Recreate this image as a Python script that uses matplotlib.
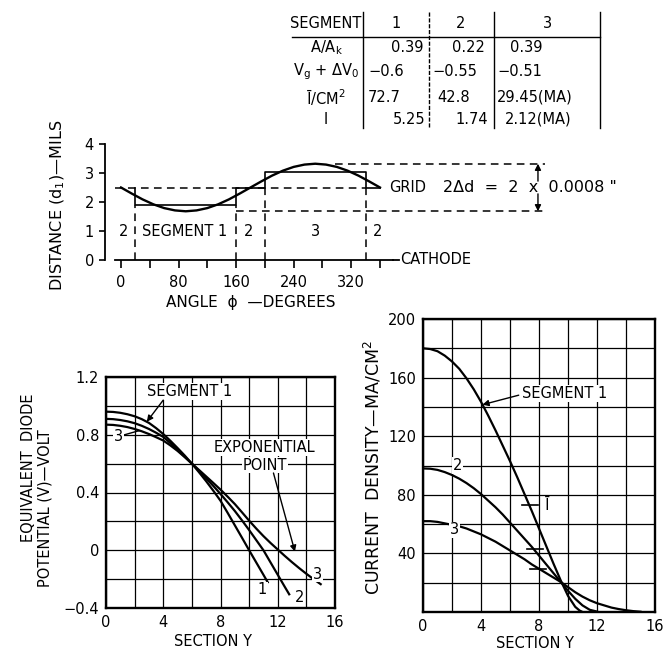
import matplotlib
matplotlib.use('Agg')
import matplotlib.pyplot as plt
from matplotlib.lines import Line2D
import numpy as np

plt.rcParams['font.family'] = ['DejaVu Sans']
plt.rcParams['mathtext.default'] = 'regular'
plt.rcParams['font.size'] = 10.5

# ---------------- data: table ----------------
table_row_labels = ['SEGMENT', 'A/A$_k$', 'V$_g$ + ΔV$_0$', 'Ī/CM$^2$', 'I']
table_segments = ['1', '2', '3']
table_area_ratio = ['0.39', '0.22', '0.39']
table_vg_dv0 = ['−0.6', '−0.55', '−0.51']
table_mean_density = ['72.7', '42.8', '29.45(MA)']
table_current = ['5.25', '1.74', '2.12(MA)']

# ---------------- data: grid distance vs angle ----------------
phi_deg = [0, 15, 30, 45, 60, 75, 90, 105, 120, 135, 150, 165, 180,
           195, 210, 225, 240, 255, 270, 285, 300, 315, 330, 345, 360]
grid_dist = [2.50, 2.29, 2.09, 1.92, 1.79, 1.71, 1.68, 1.71, 1.79, 1.92, 2.09, 2.29, 2.50,
             2.71, 2.91, 3.08, 3.21, 3.29, 3.32, 3.29, 3.21, 3.08, 2.91, 2.71, 2.50]
seg_edges = [20, 160, 200, 340]
seg_edge_top = [1.9, 1.9, 2.5, 2.5]
seg_mean_phi = [20, 20, 160, 160, 200, 200, 340, 340, 360]
seg_mean_d = [2.5, 1.9, 1.9, 2.5, 2.5, 3.05, 3.05, 2.5, 2.5]
seg_label_phi = [3, 89, 178, 270, 357]
seg_label_txt = ['2', 'SEGMENT 1', '2', '3', '2']
d_nominal, d_high, d_low = 2.5, 3.32, 1.68

# ---------------- data: equivalent diode potential ----------------
y_pot1 = [0, 0.5, 1, 1.5, 2, 2.5, 3, 3.5, 4, 4.5, 5, 5.5, 6, 6.5, 7, 7.5, 8, 8.5, 9, 9.5, 10, 10.5, 11, 11.3]
v_pot1 = [0.960, 0.958, 0.952, 0.942, 0.928, 0.908, 0.882, 0.846, 0.805, 0.758, 0.708, 0.656, 0.600,
          0.540, 0.478, 0.412, 0.343, 0.259, 0.173, 0.087, 0.000, -0.085, -0.170, -0.222]
y_pot2 = [0, 0.5, 1, 1.5, 2, 2.5, 3, 3.5, 4, 4.5, 5, 5.5, 6, 6.5, 7, 7.5, 8, 8.5, 9, 9.5, 10, 10.5,
          11, 11.5, 12, 12.5, 12.8]
v_pot2 = [0.910, 0.908, 0.902, 0.893, 0.880, 0.862, 0.840, 0.814, 0.785, 0.742, 0.696, 0.648, 0.600,
          0.550, 0.498, 0.445, 0.390, 0.332, 0.272, 0.207, 0.140, 0.070, 0.000, -0.085, -0.170,
          -0.255, -0.305]
y_pot3 = [0, 0.5, 1, 1.5, 2, 2.5, 3, 3.5, 4, 4.5, 5, 5.5, 6, 6.5, 7, 7.5, 8, 8.5, 9, 9.5, 10, 10.5,
          11, 11.5, 12, 12.5, 13, 13.5, 14, 14.5, 15]
v_pot3 = [0.870, 0.868, 0.862, 0.853, 0.840, 0.824, 0.805, 0.783, 0.760, 0.726, 0.688, 0.645, 0.600,
          0.556, 0.511, 0.466, 0.420, 0.371, 0.320, 0.263, 0.205, 0.150, 0.098, 0.050, 0.005,
          -0.040, -0.083, -0.124, -0.163, -0.200, -0.235]

# ---------------- data: current density ----------------
y_cd1 = [0, 0.5, 1, 1.5, 2, 2.5, 3, 3.5, 4, 4.5, 5, 5.5, 6, 6.5, 7, 7.5, 8, 8.5, 9, 9.5, 10, 10.5, 10.8, 11]
j_cd1 = [180, 179.5, 178, 175, 171, 166, 159.5, 152, 143.5, 134, 124, 113.5, 103, 92, 80.5, 69, 57,
         45, 33, 21.5, 11, 3.5, 1, 0]
y_cd2 = [0, 0.5, 1, 1.5, 2, 2.5, 3, 3.5, 4, 4.5, 5, 5.5, 6, 6.5, 7, 7.5, 8, 8.5, 9, 9.5, 10, 10.5,
         11, 11.5, 12]
j_cd2 = [98, 97.8, 97, 95.5, 93.5, 91, 88, 84.5, 80.5, 76, 71.5, 66.5, 61, 55.5, 50, 44.5, 38.5,
         32.5, 26.5, 20.5, 14.5, 9, 4.5, 1.5, 0.3]
y_cd3 = [0, 0.5, 1, 1.5, 2, 2.5, 3, 3.5, 4, 4.5, 5, 5.5, 6, 6.5, 7, 7.5, 8, 8.5, 9, 9.5, 10, 10.5,
         11, 11.5, 12, 12.5, 13, 13.5, 14, 14.5, 15]
j_cd3 = [62, 62, 61.5, 60.5, 59.5, 58.5, 57, 55, 53, 50.5, 48, 45, 42, 39, 36, 32.5, 29.5, 26.5,
         23.5, 20.5, 17, 13.5, 10.5, 8, 6, 4.5, 3, 2, 1.2, 0.6, 0.2]
mean_density = [72.7, 42.8, 29.45]
mean_density_span = [(6.8, 7.9), (7.2, 8.3), (7.4, 8.5)]

# ---------------- figure ----------------
W, H = 664, 650
fig = plt.figure(figsize=(W / 100, H / 100), dpi=100)
fig.patch.set_facecolor('white')


def ax_px(l, t, r, b):
    return fig.add_axes([l / W, 1 - b / H, (r - l) / W, (b - t) / H])


def ftext(x, y, s, **kw):
    return fig.text(x / W, 1 - y / H, s, **kw)


def fline(x0, y0, x1, y1, **kw):
    fig.add_artist(Line2D([x0 / W, x1 / W], [1 - y0 / H, 1 - y1 / H],
                          transform=fig.transFigure, color='black', **kw))


# ---------------- table ----------------
row_y = [24, 48, 72, 97, 119]
col_lines = [363, 429, 494, 600]
for xl_ in col_lines:
    fline(xl_, 12, xl_, 128, lw=1.0, ls='-' if xl_ != 429 else (0, (3, 1.2)))
fline(292, 36.5, 600, 36.5, lw=1.0)
fs_t = 10.5
for lbl, y in zip(table_row_labels, row_y):
    ftext(326, y, lbl, ha='center', va='center', fontsize=fs_t)
for s, xc in zip(table_segments, [396, 461, 547]):
    ftext(xc, row_y[0], s, ha='center', va='center', fontsize=fs_t)
cell_layout = [
    (table_area_ratio, [(423, 'right'), (485, 'right'), (510, 'left')]),
    (table_vg_dv0, [(368, 'left'), (432, 'left'), (497, 'left')]),
    (table_mean_density, [(368, 'left'), (437, 'left'), (497, 'left')]),
    (table_current, [(425, 'right'), (488, 'right'), (505, 'left')]),
]
for (vals, pos), y in zip(cell_layout, row_y[1:]):
    for v, (x, ha) in zip(vals, pos):
        ftext(x, y, v, ha=ha, va='center', fontsize=fs_t)

# ---------------- top chart ----------------
PX, PY = 0.7194, 29.0
X0, Y0 = 121, 260
xlim0, ylim0 = (-40, 420), (-0.5, 4.5)
ax0 = ax_px(X0 + xlim0[0] * PX, Y0 - ylim0[1] * PY, X0 + xlim0[1] * PX, Y0 - ylim0[0] * PY)
ax0.set_xlim(xlim0)
ax0.set_ylim(ylim0)
ax0.patch.set_alpha(0)
ax0.spines['top'].set_visible(False)
ax0.spines['right'].set_visible(False)
ax0.spines['left'].set_position(('data', -22))
ax0.spines['left'].set_bounds(0, 4)
ax0.spines['bottom'].set_position(('data', 0))
ax0.spines['bottom'].set_bounds(-8, 378)
for s in ['left', 'bottom']:
    ax0.spines[s].set_linewidth(1.3)
xt = list(range(0, 361, 40))
ax0.set_xticks(xt)
ax0.set_xticklabels([str(v) if v % 80 == 0 else '' for v in xt])
ax0.set_yticks(range(5))
ax0.set_yticklabels([str(v) for v in range(5)])
ax0.tick_params(axis='x', direction='out', length=6, width=1.2, pad=5, labelsize=10.5)
ax0.tick_params(axis='y', direction='out', length=4, width=1.2, pad=4, labelsize=10.5)

dash = dict(color='black', lw=1.1, dashes=(5, 3.5), clip_on=False)
ax0.plot([-8, 340], [d_nominal, d_nominal], **dash)
ax0.plot([297, 589], [d_high, d_high], **dash)
ax0.plot([160, 589], [d_low, d_low], **dash)
for p, top in zip(seg_edges, seg_edge_top):
    ax0.plot([p, p], [0, top], **dash)
ax0.plot(seg_mean_phi, seg_mean_d, color='black', lw=1.2, clip_on=False)
ax0.plot(phi_deg, grid_dist, color='black', lw=1.7, clip_on=False)
for p, t in zip(seg_label_phi, seg_label_txt):
    ax0.text(p, 1.0, t, ha='center', va='center', fontsize=10.5)
ax0.text(372.5, d_nominal, 'GRID', ha='left', va='center', fontsize=10.5)
ax0.text(388, 0, 'CATHODE', ha='left', va='center', fontsize=10.5)
ax0.plot([378, 386], [0, 0], color='black', lw=1.3, clip_on=False)
ax0.text(447, d_nominal, '2Δd  =  2  x  0.0008 "', ha='left', va='center', fontsize=11.5)
arr = dict(arrowstyle='-|>', lw=1.0, color='black', mutation_scale=9, shrinkA=0, shrinkB=0)
ax0.annotate('', xy=(579.6, d_high), xytext=(579.6, 2.72), arrowprops=arr, annotation_clip=False)
ax0.annotate('', xy=(579.6, d_low), xytext=(579.6, 2.28), arrowprops=arr, annotation_clip=False)
ftext(58, 205, 'DISTANCE (d$_1$)—MILS', rotation=90, ha='center', va='center', fontsize=11.5)
ftext(251, 303, 'ANGLE  ϕ  —DEGREES', ha='center', va='center', fontsize=11)


# ---------------- bottom plots ----------------
def grid_axes(box, xlim, ylim, xg, yg, xlab, ylab):
    ax = ax_px(*box)
    ax.set_xlim(xlim)
    ax.set_ylim(ylim)
    ax.set_xticks(xg)
    ax.set_yticks(yg)
    ax.set_xticklabels(xlab)
    ax.set_yticklabels(ylab)
    ax.grid(True, color='black', lw=0.9)
    ax.set_axisbelow(True)
    ax.tick_params(length=0, labelsize=10.5)
    ax.tick_params(axis='x', pad=5)
    ax.tick_params(axis='y', pad=5)
    for s in ax.spines.values():
        s.set_linewidth(1.7)
    return ax


xg = list(range(0, 17, 2))
xlab = [str(v) if v % 4 == 0 else '' for v in xg]
yg1 = [round(-0.4 + 0.2 * i, 1) for i in range(9)]
ylab1 = [('−' + f'{abs(v):g}' if v < 0 else f'{v:g}') if round(v * 10) % 4 == 0 else '' for v in yg1]
ax1 = grid_axes((106, 377, 335, 608), (0, 16), (-0.4, 1.2), xg, yg1, xlab, ylab1)
lw_c = 1.6
ax1.plot(y_pot1, v_pot1, color='black', lw=lw_c)
ax1.plot(y_pot2, v_pot2, color='black', lw=lw_c)
ax1.plot(y_pot3, v_pot3, color='black', lw=lw_c)
wb = dict(facecolor='white', edgecolor='none', pad=0.6)
ax1.text(5.85, 1.10, 'SEGMENT 1', ha='center', va='center', fontsize=10.5, bbox=wb)
ax1.annotate('', xy=(2.85, 0.89), xytext=(4.0, 1.04),
             arrowprops=dict(arrowstyle='-|>', lw=1.0, color='black', mutation_scale=9,
                             shrinkA=0, shrinkB=0))
ax1.text(0.85, 0.785, '3', ha='center', va='center', fontsize=10.5, bbox=wb)
ax1.plot([1.3, 2.3], [0.80, 0.828], color='black', lw=1.0)
ax1.text(11.1, 0.71, 'EXPONENTIAL', ha='center', va='center', fontsize=10.5, bbox=wb)
ax1.text(11.1, 0.59, 'POINT', ha='center', va='center', fontsize=10.5, bbox=wb)
ax1.annotate('', xy=(13.2, -0.01), xytext=(11.7, 0.535),
             arrowprops=dict(arrowstyle='-|>', lw=1.0, color='black', mutation_scale=9,
                             shrinkA=0, shrinkB=0))
ax1.text(10.9, -0.275, '1', ha='center', va='center', fontsize=10.5, bbox=wb)
ax1.text(13.5, -0.33, '2', ha='center', va='center', fontsize=10.5, bbox=wb)
ax1.text(14.8, -0.165, '3', ha='center', va='center', fontsize=10.5, bbox=wb)
ftext(29, 468, 'EQUIVALENT  DIODE', rotation=90, ha='center', va='center', fontsize=10.5)
ftext(45, 508, 'POTENTIAL (V)—VOLT', rotation=90, ha='center', va='center', fontsize=10.5)
ftext(213, 642, 'SECTION Y', ha='center', va='center', fontsize=10.5)

yg2 = list(range(0, 201, 20))
ylab2 = [str(v) if v % 40 == 0 and v > 0 else '' for v in yg2]
ax2 = grid_axes((423, 319, 655, 612), (0, 16), (0, 200), xg, yg2, xlab, ylab2)
ax2.plot(y_cd1, j_cd1, color='black', lw=lw_c)
ax2.plot(y_cd2, j_cd2, color='black', lw=lw_c)
ax2.plot(y_cd3, j_cd3, color='black', lw=lw_c)
for jm, (a, b) in zip(mean_density, mean_density_span):
    ax2.plot([a, b], [jm, jm], color='black', lw=1.2)
ax2.text(8.55, 73, 'Ī', ha='center', va='center', fontsize=10.5, bbox=wb)
ax2.text(6.8, 149, 'SEGMENT 1', ha='left', va='center', fontsize=10.5, bbox=wb)
ax2.annotate('', xy=(4.1, 141.5), xytext=(6.6, 148),
             arrowprops=dict(arrowstyle='-|>', lw=1.0, color='black', mutation_scale=9,
                             shrinkA=0, shrinkB=0))
ax2.text(2.4, 100, '2', ha='center', va='center', fontsize=10.5, bbox=wb)
ax2.text(2.2, 56, '3', ha='center', va='center', fontsize=10.5, bbox=wb)
ftext(373, 468, 'CURRENT  DENSITY—MA/CM$^2$', rotation=90, ha='center', va='center', fontsize=12.5)
ftext(535, 643, 'SECTION Y', ha='center', va='center', fontsize=10.5)

fig.savefig('out.png', dpi=100, facecolor='white')
